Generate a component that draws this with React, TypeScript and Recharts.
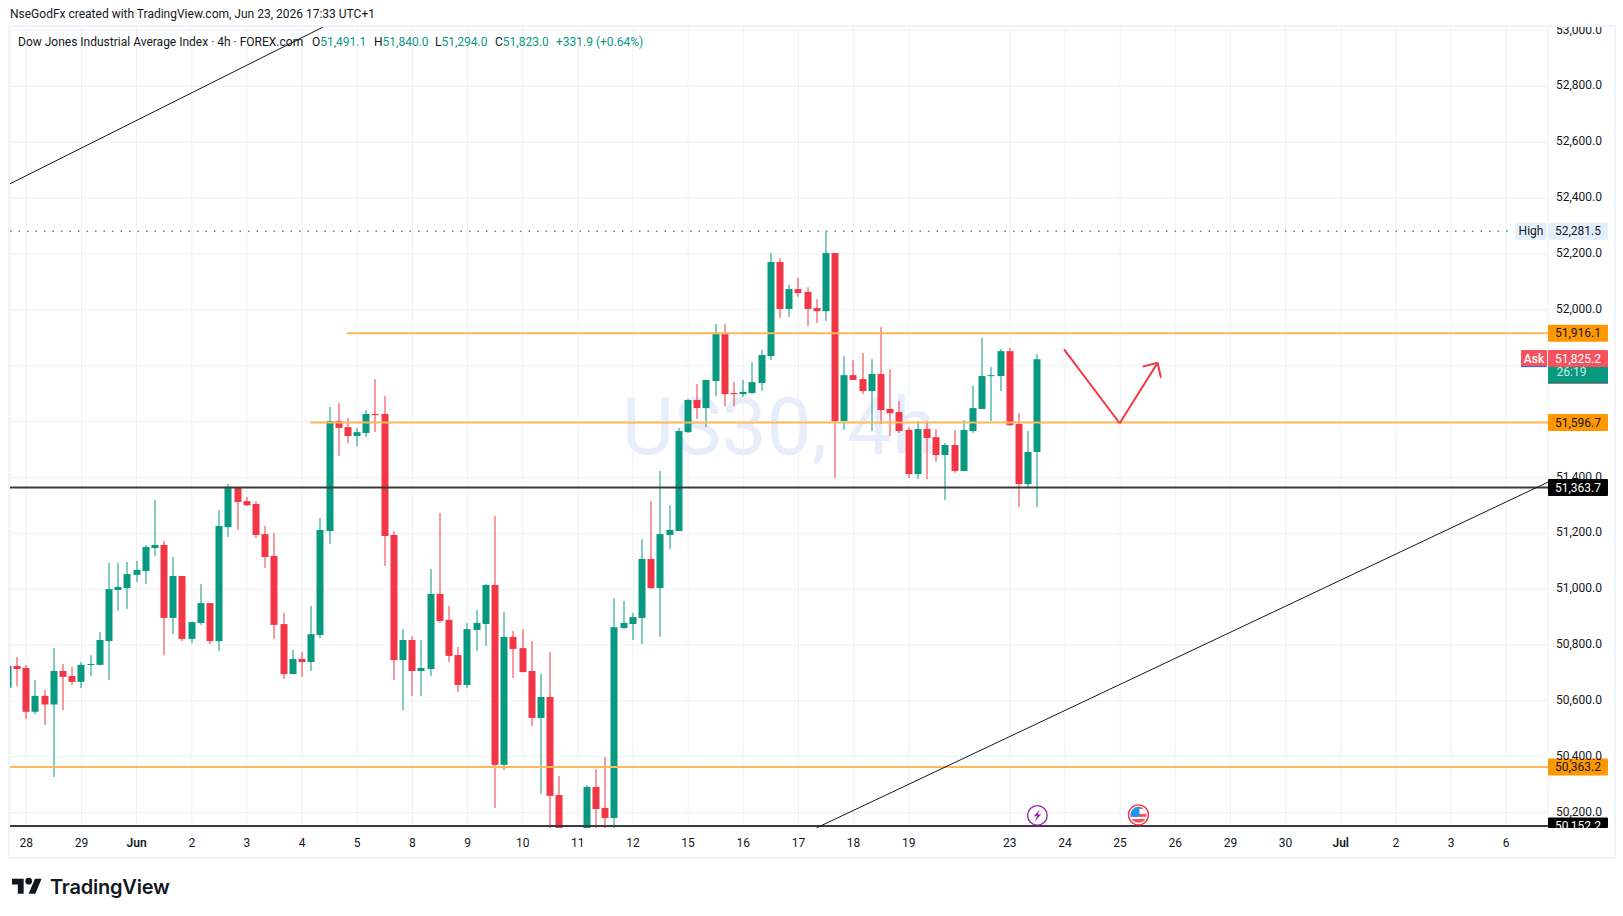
import {
  Bar,
  CartesianGrid,
  ComposedChart,
  ReferenceDot,
  ReferenceLine,
  XAxis,
  YAxis,
} from 'recharts'

const OPENS = [
  50647, 50725, 50718, 50561, 50618, 50587, 50707, 50689, 50668, 50729, 50729, 50814, 50997, 51004, 51051, 51065,
  51147, 51158, 50897, 51047, 50822, 50879, 50950, 50814, 51222, 51362, 51315, 51305, 51197, 51119, 50875, 50696,
  50750, 50739, 50836, 51208, 51602, 51580, 51548, 51559, 51627, 51627, 51194, 50746, 50818, 50707, 50714, 50983,
  50890, 50764, 50657, 50854, 50875, 51015, 50371, 50829, 50789, 50707, 50539, 50614, 50263, 50030, 49985, 50060,
  50292, 50217, 50181, 50861, 50875, 50897, 51108, 51004, 51194, 51208, 51562, 51677, 51648, 51745, 51913, 51702,
  51698, 51702, 51738, 51834, 52171, 52003, 52074, 52064, 52006, 51995, 52203, 51602, 51766, 51752, 51709, 51770,
  51645, 51634, 51570, 51412, 51573, 51544, 51480, 51516, 51423, 51566, 51645, 51763, 51763, 51852, 51591, 51376,
  51491,
]
const HIGHS = [
  50729, 50757, 50729, 50675, 50639, 50789, 50732, 50721, 50739, 50764, 50847, 51094, 51094, 51097, 51101, 51158,
  51319, 51172, 51115, 51047, 50882, 51018, 50950, 51283, 51376, 51362, 51330, 51315, 51226, 51201, 50915, 50782,
  50775, 50940, 51255, 51652, 51666, 51613, 51577, 51641, 51752, 51691, 51208, 50857, 50832, 50818, 51072, 51273,
  50940, 50793, 50879, 50925, 51018, 51262, 50918, 50850, 50857, 50814, 50696, 50775, 50331, 50060, 50090, 50299,
  50356, 50399, 50968, 50958, 50915, 51179, 51315, 51423, 51301, 51577, 51681, 51734, 51749, 51949, 51949, 51741,
  51749, 51813, 51856, 52203, 52185, 52089, 52114, 52081, 52038, 52281, 52203, 51834, 51820, 51845, 51824, 51938,
  51788, 51673, 51580, 51602, 51602, 51573, 51523, 51570, 51605, 51727, 51899, 51795, 51860, 51863, 51630, 51566,
  51840,
]
const LOWS = [
  50644, 50653, 50535, 50553, 50514, 50328, 50567, 50657, 50646, 50689, 50727, 50675, 50922, 50929, 51026, 51018,
  51119, 50764, 50839, 50814, 50807, 50872, 50804, 50779, 51187, 51212, 51298, 51183, 51076, 50822, 50678, 50696,
  50686, 50707, 50825, 51162, 51477, 51523, 51512, 51545, 51562, 51083, 50675, 50567, 50618, 50618, 50689, 50879,
  50739, 50632, 50646, 50779, 50797, 50217, 50353, 50682, 50703, 50510, 50267, 50100, 49990, 49960, 49950, 50020,
  50120, 50130, 50135, 50857, 50818, 50804, 51000, 50829, 51144, 51208, 51559, 51609, 51580, 51691, 51655, 51655,
  51688, 51698, 51709, 51820, 51970, 51974, 52046, 51942, 51953, 51960, 51398, 51570, 51749, 51698, 51566, 51591,
  51548, 51559, 51398, 51394, 51394, 51455, 51319, 51416, 51423, 51559, 51645, 51602, 51709, 51584, 51294, 51366,
  51294,
]
const CLOSES = [
  50725, 50714, 50561, 50618, 50587, 50707, 50686, 50668, 50729, 50732, 50818, 51000, 51008, 51054, 51069, 51151,
  51158, 50897, 51047, 50822, 50882, 50950, 50814, 51226, 51362, 51312, 51300, 51194, 51115, 50872, 50696, 50750,
  50739, 50839, 51212, 51602, 51577, 51548, 51562, 51627, 51623, 51190, 50746, 50818, 50707, 50718, 50983, 50886,
  50761, 50657, 50857, 50879, 51015, 50371, 50829, 50786, 50703, 50539, 50614, 50260, 50040, 49980, 50060, 50292,
  50213, 50181, 50864, 50879, 50900, 51108, 51004, 51197, 51212, 51566, 51677, 51648, 51749, 51913, 51698, 51698,
  51706, 51741, 51838, 52171, 52003, 52074, 52060, 52003, 51995, 52203, 51602, 51766, 51749, 51709, 51770, 51641,
  51630, 51566, 51412, 51573, 51541, 51480, 51516, 51423, 51570, 51648, 51763, 51766, 51852, 51587, 51376, 51491,
  51823,
]

const PRICE_TICKS = [
  50200, 50400, 50600, 50800, 51000, 51200, 51400, 51600, 51800, 52000, 52200, 52400, 52600, 52800, 53000,
]
// these two sit fully behind the axis tags in the original, only their grid lines show
const HIDDEN_PRICE_LABELS = [51600, 51800]
const TIME_TICKS = [
  2, 8, 14, 20, 26, 32, 38, 44, 50, 56, 62, 68, 74, 80, 86, 92, 98, 109, 115, 121, 127, 133, 139, 145, 151, 157, 163,
]
const TIME_LABELS = [
  '28', '29', 'Jun', '2', '3', '4', '5', '8', '9', '10', '11', '12', '15', '16', '17', '18', '19', '23', '24', '25',
  '26', '29', '30', 'Jul', '2', '3', '6',
]

const ORANGE_LEVELS = [
  { price: 51916.1, from: 36.9 },
  { price: 51596.7, from: 32.9 },
  { price: 50363.2, from: 0.226 },
]
const BLACK_LEVELS = [51363.7, 50152.2]
const TREND_LINES = [
  [[0.226, 52451], [34.28, 53012]],
  [[88.0, 50146], [167.55, 51383]],
]
const PATH_SEGMENTS = [
  [[114.9, 51858.6], [120.95, 51593.8]],
  [[120.95, 51593.8], [125.08, 51810.7]],
  [[125.08, 51810.7], [123.45, 51796.4]],
  [[125.08, 51810.7], [125.44, 51757]],
]

const HIGH_PRICE = 52281.5
const ASK_PRICE = 51825.2
const X_DOMAIN = [0.226, 167.55]
const Y_DOMAIN = [50145, 53015.8]

const UP = '#089981'
const DOWN = '#f23645'
const INK = '#131722'
const GRID = '#f0f1f3'
const ORANGE_LINE = '#ffb75a'
const ORANGE_TAG = '#ff9800'
const BLACK_LINE = '#3a3a3a'
const FONT = 'Roboto, sans-serif'
const PLOT_BOTTOM = 828

const rows = OPENS.map((open, i) => ({
  i,
  open,
  high: HIGHS[i],
  low: LOWS[i],
  close: CLOSES[i],
  range: [LOWS[i], HIGHS[i]],
}))

const fmtPrice = (v: number) => v.toLocaleString('en-US', { minimumFractionDigits: 1, maximumFractionDigits: 1 })

function Candle({ x, width, y, height, payload }: any) {
  const { open, high, low, close } = payload
  const unit = height / (high - low)
  const yOf = (v: number) => y + (high - v) * unit
  const color = close >= open ? UP : DOWN
  const cx = Math.round(x + width / 2)
  const top = yOf(Math.max(open, close))
  const bottom = yOf(Math.min(open, close))
  return (
    <g>
      <rect x={cx - 0.5} y={y} width={1} height={height} fill={color} />
      <rect x={cx - 3.5} y={top} width={7} height={Math.max(bottom - top, 1)} fill={color} />
    </g>
  )
}

function TimeTick({ x, y, payload }: any) {
  const label = TIME_LABELS[TIME_TICKS.indexOf(payload.value)]
  const strong = label === 'Jun' || label === 'Jul'
  return (
    <text x={x} y={y} dy="0.71em" textAnchor="middle" fontSize={12} fontFamily={FONT} fontWeight={strong ? 600 : 400} fill={INK}>
      {label}
    </text>
  )
}

function PriceTick({ x, y, payload }: any) {
  if (HIDDEN_PRICE_LABELS.includes(payload.value)) return null
  return (
    <text x={x} y={y - 1} dy="0.35em" fontSize={12} fontFamily={FONT} fill={INK}>
      {fmtPrice(payload.value)}
    </text>
  )
}

// axis tag right of the plot, cut at the pane's lower edge like the original
function PriceTag({ cy, tagFill, tagText, label }: any) {
  const top = cy - 8.5
  const h = Math.min(17, PLOT_BOTTOM - top)
  return (
    <g>
      <rect x={1548} y={top} width={60} height={h} rx={1} fill={tagFill} />
      <svg x={1548} y={top} width={60} height={h} overflow="hidden">
        <text x={30} y={12.7} textAnchor="middle" fontSize={12} fontFamily={FONT} fill={tagText}>
          {label}
        </text>
      </svg>
    </g>
  )
}

function HighTag({ cy }: any) {
  return (
    <g>
      <rect x={1515} y={cy - 8.5} width={31.5} height={17} rx={1} fill="#e3effd" />
      <text x={1531} y={cy + 4.2} textAnchor="middle" fontSize={12} fontFamily={FONT} fill={INK}>
        High
      </text>
      <PriceTag cy={cy} tagFill="#e3effd" tagText={INK} label={fmtPrice(HIGH_PRICE)} />
    </g>
  )
}

function AskTag({ cy }: any) {
  return (
    <g>
      <rect x={1521} y={cy - 8.5} width={26} height={17} rx={1} fill="#f7525f" />
      <rect x={1521} y={cy + 7.5} width={26} height={1} fill="#2962ff" />
      <text x={1534} y={cy + 4.2} textAnchor="middle" fontSize={12} fontFamily={FONT} fontWeight={500} fill="#ffffff">
        Ask
      </text>
      <rect x={1548} y={cy + 8} width={60} height={16.5} fill={UP} />
      <rect x={1548} y={cy + 24} width={60} height={1} fill="#4a4a4a" />
      <text x={1556.5} y={cy + 17.5} fontSize={12} fontFamily={FONT} fill="#c8ece4">
        26:19
      </text>
      <PriceTag cy={cy} tagFill="#f7525f" tagText="#ffffff" label={fmtPrice(ASK_PRICE)} />
    </g>
  )
}

function BoltIcon({ cx, cy }: any) {
  return (
    <g>
      <circle cx={cx} cy={cy} r={9.8} fill="#ffffff" stroke="#9c27b0" strokeWidth={1.4} />
      <path
        d={`M${cx + 2.6} ${cy - 6} L${cx - 3.6} ${cy + 0.8} L${cx - 0.4} ${cy + 0.8} L${cx - 2.6} ${cy + 6} L${cx + 3.8} ${cy - 1.2} L${cx + 0.4} ${cy - 1.2} Z`}
        fill="#9c27b0"
      />
    </g>
  )
}

function FlagIcon({ cx, cy }: any) {
  return (
    <g>
      <defs>
        <clipPath id="flag-clip">
          <circle cx={cx} cy={cy} r={8} />
        </clipPath>
      </defs>
      <circle cx={cx} cy={cy} r={10} fill="#ffffff" stroke="#f23645" strokeWidth={1.4} />
      <g clipPath="url(#flag-clip)">
        <rect x={cx - 9} y={cy - 1} width={18} height={3} fill="#f7525f" />
        <rect x={cx - 9} y={cy + 4} width={18} height={5} fill="#f7525f" />
        <rect x={cx - 9} y={cy - 9} width={18} height={3} fill="#f7525f" />
        <rect x={cx - 9} y={cy - 9} width={10} height={11} fill="#2196f3" />
      </g>
    </g>
  )
}

function Legend() {
  const label = { position: 'absolute', top: 34, fontSize: 12, lineHeight: '16px', whiteSpace: 'nowrap' } as const
  const value = { color: UP }
  return (
    <div style={{ position: 'absolute', left: 0, top: 0, color: INK, fontFamily: FONT }}>
      <span style={{ ...label, left: 18 }}>Dow Jones Industrial Average Index · 4h · FOREX.com</span>
      <span style={{ ...label, left: 312 }}>O<span style={value}>51,491.1</span></span>
      <span style={{ ...label, left: 374 }}>H<span style={value}>51,840.0</span></span>
      <span style={{ ...label, left: 435 }}>L<span style={value}>51,294.0</span></span>
      <span style={{ ...label, left: 495 }}>C<span style={value}>51,823.0</span></span>
      <span style={{ ...label, left: 556, color: UP }}>+331.9 (+0.64%)</span>
    </div>
  )
}

function Logo() {
  return (
    <div style={{ position: 'absolute', left: 12, top: 875, display: 'flex', alignItems: 'center', color: '#131722' }}>
      <svg width={30} height={24} viewBox="0 0 36 28">
        <path d="M14 22H7V11H0V4h14v18zM28 22h-8l7.5-18h8L28 22z" fill="currentColor" />
        <circle cx={20} cy={7} r={4} fill="currentColor" />
      </svg>
      <span style={{ marginLeft: 8, fontFamily: 'Inter, sans-serif', fontWeight: 600, fontSize: 20, letterSpacing: -0.2 }}>
        TradingView
      </span>
    </div>
  )
}

export default function App() {
  return (
    <div style={{ position: 'absolute', left: 0, top: 0, width: 1623, height: 916, background: '#ffffff', overflow: 'hidden' }}>
      <div
        style={{
          position: 'absolute',
          left: 10,
          width: 1538,
          top: 26,
          height: 802,
          lineHeight: '802px',
          textAlign: 'center',
          fontFamily: FONT,
          fontSize: 80,
          color: '#e8edfc',
        }}
      >
        US30, 4h
      </div>
      <div style={{ position: 'absolute', left: 0, top: 0 }}>
        <ComposedChart width={1623} height={916} data={rows} margin={{ top: 26, right: 10, bottom: 60, left: 10 }}>
          <CartesianGrid stroke={GRID} strokeWidth={1} />
          <XAxis
            dataKey="i"
            type="number"
            domain={X_DOMAIN}
            allowDataOverflow
            ticks={TIME_TICKS}
            tick={<TimeTick />}
            interval={0}
            height={28}
            axisLine={false}
            tickLine={false}
            tickMargin={4}
          />
          <YAxis
            orientation="right"
            domain={Y_DOMAIN}
            allowDataOverflow
            ticks={PRICE_TICKS}
            tick={<PriceTick />}
            width={65}
            axisLine={false}
            tickLine={false}
            tickMargin={2}
            interval={0}
          />
          <Bar dataKey="range" barSize={7} shape={<Candle />} isAnimationActive={false} />
          {BLACK_LEVELS.map((p) => (
            <ReferenceLine key={p} y={p} stroke={BLACK_LINE} strokeWidth={2} />
          ))}
          {ORANGE_LEVELS.map((l) => (
            <ReferenceLine
              key={l.price}
              segment={[{ x: l.from, y: l.price }, { x: X_DOMAIN[1], y: l.price }]}
              stroke={ORANGE_LINE}
              strokeWidth={2}
            />
          ))}
          <ReferenceLine
            segment={[{ x: X_DOMAIN[0], y: HIGH_PRICE }, { x: 163.4, y: HIGH_PRICE }]}
            stroke="#787b86"
            strokeWidth={1.5}
            strokeDasharray="1.5 7"
          />
          {TREND_LINES.map(([a, b]) => (
            <ReferenceLine key={a[0]} segment={[{ x: a[0], y: a[1] }, { x: b[0], y: b[1] }]} stroke="#131722" strokeWidth={1} />
          ))}
          {PATH_SEGMENTS.map(([a, b]) => (
            <ReferenceLine key={`${a[0]}-${b[0]}`} segment={[{ x: a[0], y: a[1] }, { x: b[0], y: b[1] }]} stroke={DOWN} strokeWidth={2} />
          ))}
          <ReferenceDot x={112} y={50190} r={0} shape={<BoltIcon />} />
          <ReferenceDot x={123} y={50192} r={0} shape={<FlagIcon />} />
          <ReferenceDot x={X_DOMAIN[1]} y={HIGH_PRICE} r={0} shape={<HighTag />} />
          <ReferenceDot x={X_DOMAIN[1]} y={ASK_PRICE} r={0} shape={<AskTag />} />
          {ORANGE_LEVELS.map((l) => (
            <ReferenceDot
              key={l.price}
              x={X_DOMAIN[1]}
              y={l.price}
              r={0}
              shape={<PriceTag tagFill={ORANGE_TAG} tagText={INK} label={fmtPrice(l.price)} />}
            />
          ))}
          {BLACK_LEVELS.map((p) => (
            <ReferenceDot
              key={p}
              x={X_DOMAIN[1]}
              y={p}
              r={0}
              shape={<PriceTag tagFill="#000000" tagText="#ffffff" label={fmtPrice(p)} />}
            />
          ))}
        </ComposedChart>
      </div>
      <div style={{ position: 'absolute', left: 0, top: 0, width: 1623, height: 26, background: '#ffffff' }}>
        <div style={{ position: 'absolute', left: 10, top: 7, fontFamily: FONT, fontSize: 12, color: INK, whiteSpace: 'nowrap' }}>
          NseGodFx created with TradingView.com, Jun 23, 2026 17:33 UTC+1
        </div>
      </div>
      <div
        style={{
          position: 'absolute',
          left: 8,
          top: 25,
          width: 1604,
          height: 830,
          border: '2px solid #f0f3fa',
          pointerEvents: 'none',
        }}
      />
      <Legend />
      <Logo />
    </div>
  )
}
